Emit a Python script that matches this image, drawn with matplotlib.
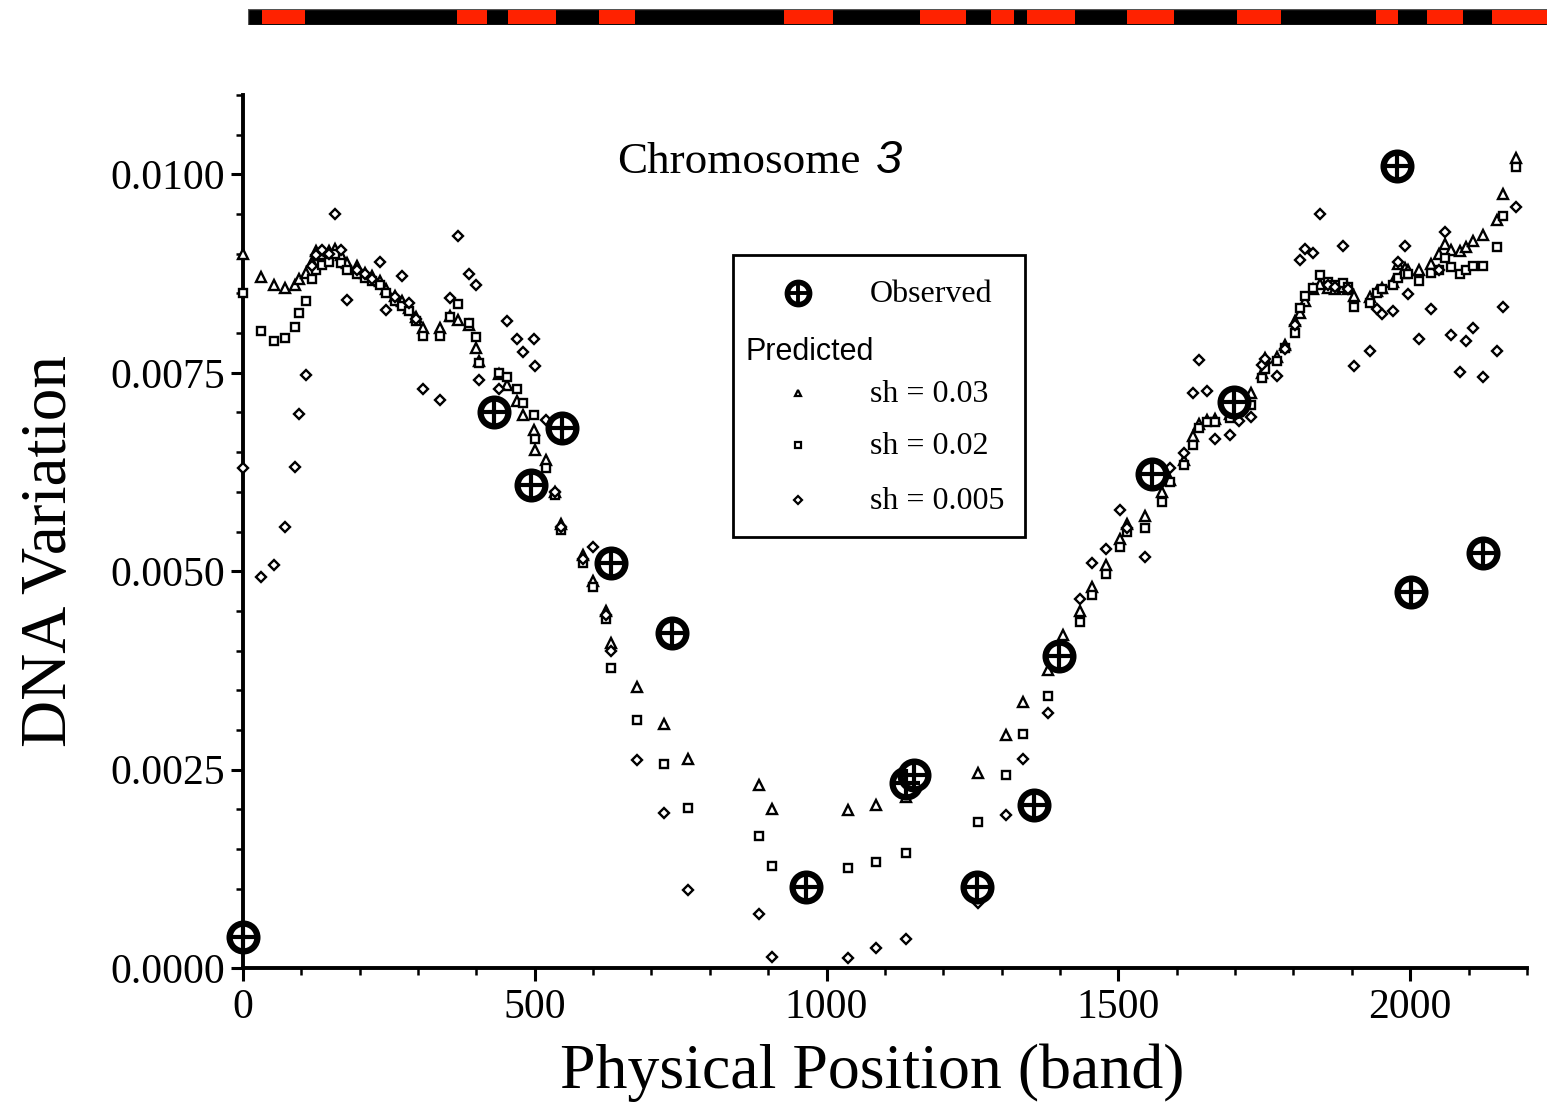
import numpy as np
import matplotlib
matplotlib.use("Agg")
import matplotlib.pyplot as plt
from matplotlib.patches import Rectangle
from matplotlib.ticker import MultipleLocator, FormatStrFormatter

# band positions of the predictions
pos = [0, 31, 54, 73, 89, 96, 108, 118, 126, 136, 148, 158, 168, 179, 195, 210,
       222, 235, 246, 260, 273, 285, 296, 309, 338, 355, 368, 387, 399, 405, 438,
       453, 469, 480, 498, 500, 520, 535, 545, 583, 600, 622, 631, 675, 722, 763,
       885, 906, 1036, 1085, 1136, 1260, 1307, 1337, 1380, 1406, 1435, 1455, 1478,
       1502, 1515, 1546, 1575, 1588, 1612, 1628, 1638, 1652, 1666, 1691, 1707, 1728,
       1746, 1752, 1772, 1786, 1803, 1812, 1820, 1834, 1845, 1860, 1872, 1885, 1894,
       1904, 1931, 1943, 1952, 1971, 1980, 1992, 1997, 2015, 2035, 2049, 2060, 2070,
       2086, 2096, 2108, 2124, 2149, 2159, 2182]

sh_003 = [0.00900, 0.00871, 0.00860, 0.00857, 0.00860, 0.00868, 0.00876, 0.00889,
          0.00904, 0.00900, 0.00904, 0.00906, 0.00898, 0.00888, 0.00885, 0.00876,
          0.00872, 0.00866, 0.00855, 0.00847, 0.00840, 0.00832, 0.00820, 0.00806,
          0.00806, 0.00822, 0.00817, 0.00810, 0.00781, 0.00765, 0.00748, 0.00735,
          0.00714, 0.00697, 0.00678, 0.00653, 0.00640, 0.00600, 0.00560, 0.00520,
          0.00488, 0.00450, 0.00410, 0.00354, 0.00308, 0.00263, 0.00231, 0.00200,
          0.00199, 0.00205, 0.00215, 0.00246, 0.00293, 0.00335, 0.00375, 0.00420,
          0.00450, 0.00480, 0.00508, 0.00540, 0.00560, 0.00570, 0.00600, 0.00615,
          0.00640, 0.00670, 0.00685, 0.00690, 0.00692, 0.00698, 0.00705, 0.00725,
          0.00750, 0.00768, 0.00770, 0.00785, 0.00815, 0.00825, 0.00840, 0.00855,
          0.00862, 0.00857, 0.00855, 0.00858, 0.00855, 0.00847, 0.00845, 0.00853,
          0.00857, 0.00865, 0.00887, 0.00882, 0.00880, 0.00880, 0.00887, 0.00900,
          0.00912, 0.00905, 0.00903, 0.00908, 0.00916, 0.00923, 0.00943, 0.00975,
          0.01020]

sh_002 = [0.00850, 0.00803, 0.00790, 0.00794, 0.00808, 0.00825, 0.00840, 0.00868,
          0.00880, 0.00886, 0.00890, 0.00900, 0.00888, 0.00879, 0.00874, 0.00870,
          0.00866, 0.00860, 0.00850, 0.00840, 0.00834, 0.00828, 0.00815, 0.00796,
          0.00796, 0.00820, 0.00837, 0.00813, 0.00795, 0.00762, 0.00750, 0.00745,
          0.00730, 0.00712, 0.00697, 0.00667, 0.00630, 0.00596, 0.00552, 0.00510,
          0.00480, 0.00440, 0.00378, 0.00313, 0.00257, 0.00202, 0.00166, 0.00128,
          0.00126, 0.00134, 0.00145, 0.00184, 0.00243, 0.00295, 0.00343, 0.00400,
          0.00436, 0.00470, 0.00497, 0.00530, 0.00550, 0.00555, 0.00587, 0.00613,
          0.00634, 0.00659, 0.00680, 0.00688, 0.00688, 0.00693, 0.00700, 0.00710,
          0.00743, 0.00755, 0.00765, 0.00781, 0.00800, 0.00832, 0.00847, 0.00857,
          0.00873, 0.00865, 0.00860, 0.00863, 0.00858, 0.00833, 0.00838, 0.00850,
          0.00855, 0.00861, 0.00870, 0.00874, 0.00874, 0.00866, 0.00876, 0.00880,
          0.00895, 0.00883, 0.00874, 0.00879, 0.00885, 0.00885, 0.00908, 0.00948,
          0.01009]

sh_0005 = [0.00630, 0.00493, 0.00508, 0.00556, 0.00631, 0.00698, 0.00747, 0.00885,
           0.00898, 0.00905, 0.00900, 0.00950, 0.00905, 0.00842, 0.00880, 0.00875,
           0.00868, 0.00890, 0.00829, 0.00845, 0.00872, 0.00838, 0.00818, 0.00730,
           0.00716, 0.00844, 0.00922, 0.00875, 0.00861, 0.00741, 0.00729, 0.00815,
           0.00793, 0.00776, 0.00793, 0.00758, 0.00690, 0.00600, 0.00556, 0.00515,
           0.00530, 0.00445, 0.00400, 0.00262, 0.00195, 0.00098, 0.00068, 0.00014,
           0.00012, 0.00025, 0.00036, 0.00082, 0.00193, 0.00263, 0.00321, 0.00405,
           0.00465, 0.00510, 0.00528, 0.00577, 0.00555, 0.00518, 0.00620, 0.00630,
           0.00649, 0.00724, 0.00766, 0.00727, 0.00667, 0.00672, 0.00689, 0.00694,
           0.00760, 0.00767, 0.00746, 0.00780, 0.00810, 0.00892, 0.00906, 0.00901,
           0.00950, 0.00860, 0.00858, 0.00910, 0.00855, 0.00759, 0.00777, 0.00830,
           0.00824, 0.00828, 0.00890, 0.00910, 0.00849, 0.00793, 0.00830, 0.00880,
           0.00927, 0.00797, 0.00751, 0.00790, 0.00807, 0.00745, 0.00777, 0.00833,
           0.00959]

obs_pos = [0, 430, 494, 547, 631, 735, 965, 1136, 1150, 1258, 1356, 1399, 1558,
           1699, 1978, 2002, 2124]
obs_val = [0.00039, 0.00700, 0.00609, 0.00680, 0.00510, 0.00422, 0.00102, 0.00233,
           0.00243, 0.00102, 0.00205, 0.00393, 0.00622, 0.00713, 0.01010, 0.00474,
           0.00523]

# red (G-dark) bands on the ideogram, as fractions of the bar length
band_start = [0.011, 0.161, 0.200, 0.270, 0.413, 0.517, 0.572, 0.600, 0.677, 0.761,
              0.868, 0.908, 0.958]
band_end = [0.044, 0.184, 0.237, 0.298, 0.450, 0.553, 0.590, 0.637, 0.713, 0.795,
            0.885, 0.935, 1.000]

SERIF = ["Liberation Serif", "DejaVu Serif"]
SANS = ["Liberation Sans", "DejaVu Sans"]

fig = plt.figure(figsize=(15.47, 11.11), dpi=100)
ax = fig.add_axes([0.157, 0.1287, 0.830, 0.7858])

mk = dict(linestyle="none", markerfacecolor="white", markeredgecolor="black",
          markeredgewidth=1.7, clip_on=False)
ax.plot(pos, sh_003, marker="^", markersize=7, zorder=3, **mk)
ax.plot(pos, sh_002, marker="s", markersize=6.2, zorder=3, **mk)
ax.plot(pos, sh_0005, marker="D", markersize=4.8, zorder=3, **mk)

# observed: thick ring with a cross inside
ax.plot(obs_pos, obs_val, linestyle="none", marker="o", markersize=20,
        markerfacecolor="white", markeredgecolor="black", markeredgewidth=4.5,
        zorder=5, clip_on=False)
ax.plot(obs_pos, obs_val, linestyle="none", marker="+", markersize=20,
        markeredgecolor="black", markeredgewidth=3, zorder=6, clip_on=False)

ax.set_xlim(0, 2200)
ax.set_ylim(0, 0.011)
for s in ["top", "right"]:
    ax.spines[s].set_visible(False)
for s in ["left", "bottom"]:
    ax.spines[s].set_linewidth(2.8)

ax.xaxis.set_major_locator(MultipleLocator(500))
ax.xaxis.set_minor_locator(MultipleLocator(100))
ax.yaxis.set_major_locator(MultipleLocator(0.0025))
ax.yaxis.set_minor_locator(MultipleLocator(0.0005))
ax.yaxis.set_major_formatter(FormatStrFormatter("%.4f"))
ax.tick_params(which="major", direction="out", length=9, width=2.2)
ax.tick_params(which="minor", direction="out", length=5, width=1.8)
ax.tick_params(axis="x", which="major", pad=6)
ax.tick_params(axis="y", which="major", pad=4)
for lab in ax.get_xticklabels() + ax.get_yticklabels():
    lab.set_family(SERIF)
    lab.set_fontsize(30)

ax.set_xlabel("Physical Position (band)", family=SERIF, fontsize=46)
ax.set_ylabel("DNA Variation", family=SERIF, fontsize=47)
ax.xaxis.set_label_coords(0.49, -0.087)
ax.yaxis.set_label_coords(-0.127, 0.478)

# title inside the plot
ax.text(0.2913, 0.9233, "Chromosome", transform=ax.transAxes, family=SERIF,
        fontsize=32.5, ha="left", va="center")
ax.text(0.4932, 0.9245, "3", transform=ax.transAxes, family=SANS,
        fontsize=34, style="italic", ha="left", va="center")

# legend drawn by hand
ax.add_patch(Rectangle((0.3816, 0.4937), 0.2274, 0.3230, transform=ax.transAxes,
                       facecolor="white", edgecolor="black", linewidth=2, zorder=7))
lx, tx = 0.4322, 0.4883
ax.plot([lx], [0.7732], transform=ax.transAxes, marker="o", markersize=16,
        markerfacecolor="white", markeredgecolor="black", markeredgewidth=4, zorder=8)
ax.plot([lx], [0.7732], transform=ax.transAxes, marker="+", markersize=16,
        markeredgecolor="black", markeredgewidth=2.8, zorder=9)
ax.text(tx, 0.7710, "Observed", transform=ax.transAxes, family=SERIF, fontsize=23,
        va="center", zorder=8)
ax.text(0.3917, 0.7060, "Predicted", transform=ax.transAxes, family=SANS,
        fontsize=22, va="center", zorder=8)
leg_rows = [("^", 5, 0.6586, "sh = 0.03"), ("s", 4.5, 0.5991, "sh = 0.02"),
            ("D", 3.6, 0.5361, "sh = 0.005")]
for m, ms, yy, lab in leg_rows:
    ax.plot([lx], [yy], transform=ax.transAxes, marker=m, markersize=ms,
            markerfacecolor="white", markeredgecolor="black", markeredgewidth=1.6,
            zorder=8)
    ax.text(tx, yy - 0.002, lab, transform=ax.transAxes, family=SERIF, fontsize=23,
            va="center", zorder=8)

# chromosome ideogram on top
bar = fig.add_axes([0.1603, 0.9775, 0.8397, 0.0144])
bar.set_xlim(0, 1)
bar.set_ylim(0, 1)
bar.axis("off")
bar.add_patch(Rectangle((0, 0), 1, 1, facecolor="black", edgecolor="#555555",
                        linewidth=1))
for a, b in zip(band_start, band_end):
    bar.add_patch(Rectangle((a, 0.04), b - a, 0.92, facecolor="#ff2200",
                            edgecolor="none"))

fig.savefig("out.png", dpi=100)
